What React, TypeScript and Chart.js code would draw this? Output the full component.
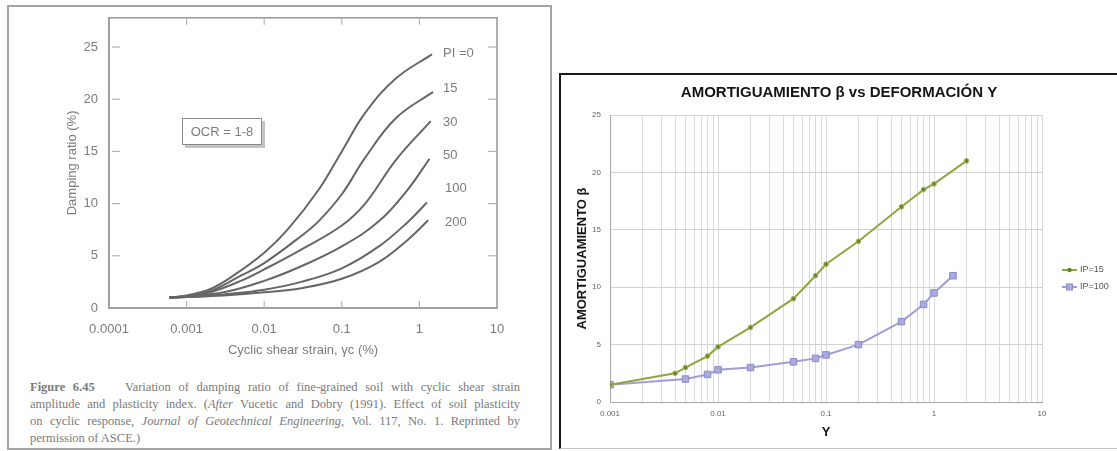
import React, { useEffect, useRef } from 'react';
import { Chart, registerables } from 'chart.js';

Chart.register(...registerables);

// ---------- Left figure: Vucetic & Dobry (1991) damping curves ----------
const LEFT_CURVE_LABELS = ['PI =0', '15', '30', '50', '100', '200'];
const pi0X = [0.0006, 0.001, 0.002, 0.004, 0.01, 0.02, 0.05, 0.1, 0.2, 0.5, 1.45];
const pi0Y = [1.0, 1.2, 1.8, 3.1, 5.3, 7.5, 11.3, 15.0, 18.7, 22.0, 24.3];
const pi15X = [0.0006, 0.001, 0.002, 0.005, 0.01, 0.03, 0.05, 0.1, 0.2, 0.5, 1.5];
const pi15Y = [1.0, 1.15, 1.6, 3.1, 4.3, 6.9, 8.3, 10.9, 14.4, 18.2, 20.7];
const pi30X = [0.0006, 0.001, 0.002, 0.005, 0.01, 0.03, 0.1, 0.2, 0.5, 1.4];
const pi30Y = [1.0, 1.1, 1.5, 2.6, 3.7, 5.6, 7.9, 10.0, 14.2, 17.9];
const pi50X = [0.0006, 0.001, 0.003, 0.01, 0.03, 0.1, 0.3, 0.7, 1.35];
const pi50Y = [1.0, 1.1, 1.5, 2.6, 4.0, 5.9, 8.3, 11.3, 14.3];
const pi100X = [0.0006, 0.001, 0.003, 0.01, 0.03, 0.1, 0.3, 0.7, 1.25];
const pi100Y = [1.0, 1.05, 1.3, 1.75, 2.5, 3.8, 5.9, 8.2, 10.1];
const pi200X = [0.0006, 0.001, 0.003, 0.01, 0.03, 0.1, 0.3, 0.7, 1.3];
const pi200Y = [1.0, 1.05, 1.2, 1.5, 1.9, 2.8, 4.4, 6.5, 8.4];
const LEFT_X_TICKS = [0.0001, 0.001, 0.01, 0.1, 1, 10];
const LEFT_X_LABELS = ['0.0001', '0.001', '0.01', '0.1', '1', '10'];
const LEFT_Y_TICKS = [0, 5, 10, 15, 20, 25];

// ---------- Right chart: Amortiguamiento vs Deformación ----------
const ip15X = [0.001, 0.004, 0.005, 0.008, 0.01, 0.02, 0.05, 0.08, 0.1, 0.2, 0.5, 0.8, 1, 2];
const ip15Y = [1.5, 2.5, 3.0, 4.0, 4.8, 6.5, 9.0, 11.0, 12.0, 14.0, 17.0, 18.5, 19.0, 21.0];
const ip100X = [0.001, 0.005, 0.008, 0.01, 0.02, 0.05, 0.08, 0.1, 0.2, 0.5, 0.8, 1, 1.5];
const ip100Y = [1.5, 2.0, 2.4, 2.8, 3.0, 3.5, 3.8, 4.1, 5.0, 7.0, 8.5, 9.5, 11.0];
const RIGHT_SERIES = ['IP=15', 'IP=100'];
const RIGHT_DECADES = [0.001, 0.01, 0.1, 1, 10];
const RIGHT_DECADE_LABELS = ['0.001', '0.01', '0.1', '1', '10'];
const MINOR_MULTIPLES = [1, 2, 3, 4, 5, 6, 7, 8, 9];

const SANS = "'Liberation Sans', Arial, sans-serif";
const GREY_TEXT = '#7c7c7c';

const toPts = (xs: number[], ys: number[]) => xs.map((x, i) => ({ x, y: ys[i] }));

const leftFramePlugin = {
  id: 'leftFrame',
  afterDraw(chart: any) {
    const { ctx, chartArea: a } = chart;
    const xs = chart.scales.x;
    const ys = chart.scales.y;
    ctx.save();
    ctx.strokeStyle = '#9c9c9c';
    ctx.lineWidth = 1.6;
    ctx.strokeRect(a.left, a.top, a.right - a.left, a.bottom - a.top);
    ctx.strokeStyle = '#b4b4b4';
    ctx.lineWidth = 1.2;
    const seg = (x1: number, y1: number, x2: number, y2: number) => {
      ctx.beginPath();
      ctx.moveTo(x1, y1);
      ctx.lineTo(x2, y2);
      ctx.stroke();
    };
    LEFT_X_TICKS.slice(1, -1).forEach((v) => {
      const px = xs.getPixelForValue(v);
      seg(px, a.bottom, px, a.bottom - 7);
      seg(px, a.top, px, a.top + 7);
    });
    LEFT_Y_TICKS.slice(1).forEach((v) => {
      const py = ys.getPixelForValue(v);
      seg(a.left + 3, py, a.left + 11, py);
      seg(a.right, py, a.right - 9, py);
    });
    ctx.restore();
  },
};

const rightLegendPlugin = {
  id: 'sideLegend',
  afterDraw(chart: any) {
    const { ctx } = chart;
    ctx.save();
    chart.data.datasets.forEach((ds: any, i: number) => {
      const y = 195 + i * 17;
      const x0 = 501;
      const x1 = 516;
      ctx.strokeStyle = ds.borderColor;
      ctx.lineWidth = 2;
      ctx.beginPath();
      ctx.moveTo(x0, y);
      ctx.lineTo(x1, y);
      ctx.stroke();
      ctx.fillStyle = ds.pointBackgroundColor;
      ctx.strokeStyle = ds.pointBorderColor;
      ctx.lineWidth = 1;
      const mx = (x0 + x1) / 2;
      if (ds.pointStyle === 'rect') {
        ctx.fillRect(mx - 3, y - 3, 6, 6);
        ctx.strokeRect(mx - 3, y - 3, 6, 6);
      } else {
        ctx.beginPath();
        ctx.arc(mx, y, 2.2, 0, Math.PI * 2);
        ctx.fill();
      }
      ctx.fillStyle = '#555';
      ctx.font = `9px ${SANS}`;
      ctx.textBaseline = 'middle';
      ctx.textAlign = 'left';
      ctx.fillText(ds.label, x1 + 3, y);
    });
    ctx.restore();
  },
};

function leftConfig(): any {
  const xsets = [pi0X, pi15X, pi30X, pi50X, pi100X, pi200X];
  const ysets = [pi0Y, pi15Y, pi30Y, pi50Y, pi100Y, pi200Y];
  return {
    type: 'scatter',
    data: {
      datasets: xsets.map((xs, i) => ({
        label: LEFT_CURVE_LABELS[i],
        data: toPts(xs, ysets[i]),
        showLine: true,
        borderColor: '#666666',
        borderWidth: 2,
        pointRadius: 0,
        tension: 0.4,
      })),
    },
    options: {
      responsive: false,
      animation: false,
      layout: { padding: { left: 0, right: 53, top: 8, bottom: 0 } },
      plugins: { legend: { display: false }, tooltip: { enabled: false }, title: { display: false } },
      scales: {
        x: {
          type: 'logarithmic',
          min: 0.0001,
          max: 10,
          afterBuildTicks: (s: any) => {
            s.ticks = LEFT_X_TICKS.map((v) => ({ value: v }));
          },
          afterFit: (s: any) => {
            s.height = 59;
          },
          ticks: {
            autoSkip: false,
            maxRotation: 0,
            color: GREY_TEXT,
            font: { family: SANS, size: 13 },
            padding: 6,
            callback: (v: number) => LEFT_X_LABELS[LEFT_X_TICKS.indexOf(v)] ?? '',
          },
          grid: { display: false },
          border: { display: true, color: '#9c9c9c', width: 1.6 },
          title: {
            display: true,
            text: 'Cyclic shear strain, γc (%)',
            color: GREY_TEXT,
            font: { family: SANS, size: 13 },
            padding: { top: 0, bottom: 9 },
          },
        },
        y: {
          min: 0,
          max: 27.8,
          afterBuildTicks: (s: any) => {
            s.ticks = LEFT_Y_TICKS.map((v) => ({ value: v }));
          },
          afterFit: (s: any) => {
            s.width = 100;
          },
          ticks: { color: GREY_TEXT, font: { family: SANS, size: 13 }, padding: 3 },
          grid: { display: false },
          border: { display: true, color: '#9c9c9c', width: 1.6 },
          title: {
            display: true,
            text: 'Damping ratio (%)',
            color: GREY_TEXT,
            font: { family: SANS, size: 13 },
            padding: { top: 56, bottom: 0 },
          },
        },
      },
    },
    plugins: [leftFramePlugin],
  };
}

function rightConfig(): any {
  return {
    type: 'scatter',
    data: {
      datasets: [
        {
          label: RIGHT_SERIES[0],
          data: toPts(ip15X, ip15Y),
          showLine: true,
          borderColor: '#8ea640',
          borderWidth: 2,
          pointStyle: 'circle',
          pointRadius: 2.4,
          pointBackgroundColor: '#6a852b',
          pointBorderColor: '#a7bd62',
          pointBorderWidth: 1,
        },
        {
          label: RIGHT_SERIES[1],
          data: toPts(ip100X, ip100Y),
          showLine: true,
          borderColor: '#9e9ed6',
          borderWidth: 2,
          pointStyle: 'rect',
          pointRadius: 4.6,
          pointBackgroundColor: '#aaaadf',
          pointBorderColor: '#8b8bc8',
          pointBorderWidth: 1,
        },
      ],
    },
    options: {
      responsive: false,
      animation: false,
      layout: { padding: { left: 0, right: 0, top: 0, bottom: 0 } },
      plugins: {
        legend: { display: false },
        tooltip: { enabled: false },
        title: {
          display: true,
          text: 'AMORTIGUAMIENTO β vs DEFORMACIÓN Y',
          color: '#151515',
          font: { family: SANS, size: 15, weight: 'bold' },
          padding: { top: 9, bottom: 13 },
        },
      },
      scales: {
        x: {
          type: 'logarithmic',
          min: 0.001,
          max: 10,
          afterBuildTicks: (s: any) => {
            const t: { value: number }[] = [];
            RIGHT_DECADES.slice(0, -1).forEach((d) => MINOR_MULTIPLES.forEach((m) => t.push({ value: d * m })));
            t.push({ value: RIGHT_DECADES[RIGHT_DECADES.length - 1] });
            s.ticks = t;
          },
          afterFit: (s: any) => {
            s.height = 45;
          },
          ticks: {
            autoSkip: false,
            maxRotation: 0,
            color: '#666',
            font: { family: SANS, size: 8 },
            padding: 7,
            callback: (v: number) => {
              const i = RIGHT_DECADES.indexOf(v);
              return i >= 0 ? RIGHT_DECADE_LABELS[i] : '';
            },
          },
          grid: { color: '#dadada', lineWidth: 1, drawTicks: false },
          border: { display: true, color: '#a8a8a8' },
          title: {
            display: true,
            text: 'Y',
            color: '#151515',
            font: { family: SANS, size: 13, weight: 'bold' },
            padding: { top: 0, bottom: 7 },
          },
        },
        y: {
          min: 0,
          max: 25,
          afterFit: (s: any) => {
            s.width = 49;
          },
          ticks: { stepSize: 5, color: '#666', font: { family: SANS, size: 8 }, padding: 9 },
          grid: { color: '#d2d2d2', lineWidth: 1, drawTicks: false },
          border: { display: true, color: '#a8a8a8' },
          title: {
            display: true,
            text: 'AMORTIGUAMIENTO β',
            color: '#151515',
            font: { family: SANS, size: 13, weight: 'bold' },
            padding: { top: 14, bottom: 0 },
          },
        },
        legendSpace: {
          type: 'linear',
          position: 'right',
          display: true,
          min: 0,
          max: 1,
          grid: { display: false, drawOnChartArea: false },
          border: { display: false },
          ticks: { display: false },
          afterFit: (s: any) => {
            s.width = 75;
          },
        },
      },
    },
    plugins: [rightLegendPlugin],
  };
}

const curveLabel = (text: string, left: number, top: number) => (
  <div
    key={text}
    style={{
      position: 'absolute',
      left,
      top,
      font: `13px ${SANS}`,
      lineHeight: '16px',
      color: GREY_TEXT,
      whiteSpace: 'nowrap',
    }}
  >
    {text}
  </div>
);

const LABEL_POS = [
  [434, 38],
  [434, 73],
  [434, 107],
  [434, 140],
  [436, 173],
  [436, 207],
];

const captionLine = (children: React.ReactNode, last = false) => (
  <div
    style={{
      textAlign: 'justify',
      textAlignLast: last ? 'left' : 'justify',
      height: 17,
      whiteSpace: 'nowrap',
    } as React.CSSProperties}
  >
    {children}
  </div>
);

export default function App() {
  const leftRef = useRef<HTMLCanvasElement>(null);
  const rightRef = useRef<HTMLCanvasElement>(null);

  useEffect(() => {
    const l = new Chart(leftRef.current as HTMLCanvasElement, leftConfig());
    const r = new Chart(rightRef.current as HTMLCanvasElement, rightConfig());
    return () => {
      l.destroy();
      r.destroy();
    };
  }, []);

  return (
    <div
      style={{
        position: 'absolute',
        left: 0,
        top: 0,
        width: 1117,
        height: 451,
        background: '#fff',
        overflow: 'hidden',
      }}
    >
      {/* Left scanned figure */}
      <div
        style={{
          position: 'absolute',
          left: 7,
          top: 5,
          width: 541,
          height: 441,
          border: '2px solid #a4a4a4',
          background: '#fff',
        }}
      >
        <canvas ref={leftRef} width={541} height={360} style={{ display: 'block' }} />
        <div
          style={{
            position: 'absolute',
            left: 173,
            top: 111,
            width: 78,
            height: 25,
            border: '1.5px solid #8a8a8a',
            boxShadow: '3px 3px 0 #c4c4c4',
            font: `13px ${SANS}`,
            lineHeight: '25px',
            textAlign: 'center',
            color: GREY_TEXT,
            background: '#fff',
          }}
        >
          OCR = 1-8
        </div>
        {LEFT_CURVE_LABELS.map((t, i) => curveLabel(t, LABEL_POS[i][0], LABEL_POS[i][1]))}
        <div
          style={{
            position: 'absolute',
            left: 21,
            top: 372,
            width: 490,
            font: `12.5px 'Liberation Serif', 'Times New Roman', serif`,
            lineHeight: '17px',
            color: '#7a7a7a',
          }}
        >
          {captionLine(
            <>
              <b>Figure 6.45</b>&nbsp;&nbsp;&nbsp; Variation of damping ratio of fine-grained soil with cyclic shear strain
            </>
          )}
          {captionLine(
            <>
              amplitude and plasticity index. (<i>After</i> Vucetic and Dobry (1991). Effect of soil plasticity
            </>
          )}
          {captionLine(
            <>
              on cyclic response, <i>Journal of Geotechnical Engineering,</i> Vol. 117, No. 1. Reprinted by
            </>
          )}
          {captionLine(<>permission of ASCE.)</>, true)}
        </div>
      </div>

      {/* Right Excel-style chart */}
      <div
        style={{
          position: 'absolute',
          left: 559,
          top: 73,
          width: 556,
          height: 373,
          borderLeft: '2px solid #1a1a1a',
          borderTop: '2px solid #1a1a1a',
          borderBottom: '1px solid #c6c6c6',
          background: '#fff',
        }}
      >
        <canvas ref={rightRef} width={556} height={372} style={{ display: 'block' }} />
      </div>
    </div>
  );
}
